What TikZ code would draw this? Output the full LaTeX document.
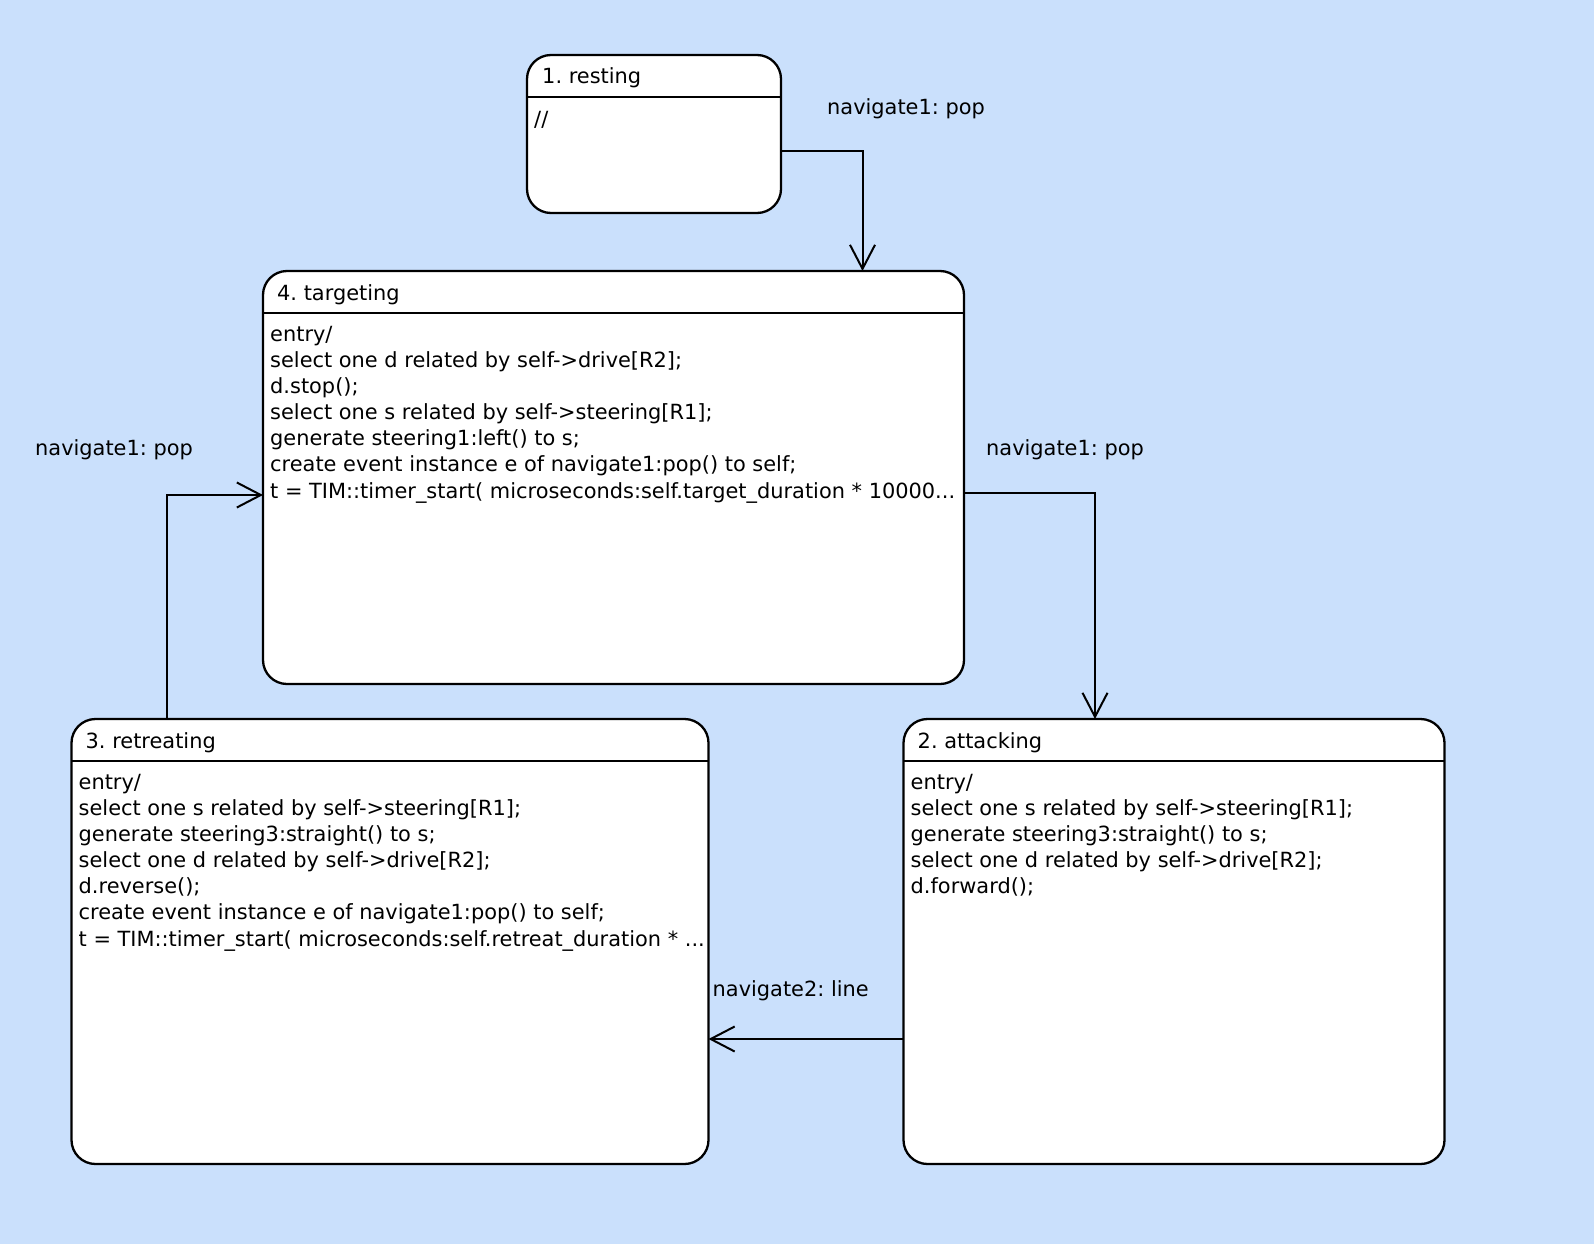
\documentclass[tikz,border=0pt]{standalone}
\usepackage{fontspec}
\usepackage{xcolor}
\usepackage{tikz}
\usetikzlibrary{arrows.meta, positioning}
\newfontfamily\statefont{DejaVu Sans}[Scale=1.0]
\frenchspacing
\definecolor{canvas}{RGB}{202,224,252}
\tikzstyle{state} = [rectangle, rounded corners=24pt, draw=black, fill=white, line width=2.3pt, anchor=north west, inner sep=0pt, outer sep=0pt]
\tikzstyle{divider} = [line width=2.1pt]
\tikzstyle{statetitle} = [anchor=base west, inner sep=0pt, font=\statefont\fontsize{20.9}{26.1}\selectfont]
\tikzstyle{statebody} = [anchor=north west, align=left, inner sep=0pt, font=\statefont\fontsize{20.9}{26.1}\selectfont]
\tikzstyle{translabel} = [anchor=base west, inner sep=0pt, font=\statefont\fontsize{20.9}{26.1}\selectfont]
\tikzstyle{trans} = [line width=2pt, -{Straight Barb[length=24pt, width=25pt]}]

\begin{document}
\begin{tikzpicture}[x=1pt, y=-1pt]

\fill[canvas] (0,0) rectangle (1594,1244);
\useasboundingbox (0,0) rectangle (1594,1244);

% states
\node (resting) [state, minimum width=254pt, minimum height=158pt] at (527,55) {};
\node (targeting) [state, minimum width=701pt, minimum height=413pt] at (263,271) {};
\node (retreating) [state, minimum width=637pt, minimum height=445pt] at (71.5,719) {};
\node (attacking) [state, minimum width=541pt, minimum height=445pt] at (903.5,719) {};

\draw [divider] ([yshift=-42pt]resting.north west) -- ([yshift=-42pt]resting.north east);
\draw [divider] ([yshift=-42pt]targeting.north west) -- ([yshift=-42pt]targeting.north east);
\draw [divider] ([yshift=-42pt]retreating.north west) -- ([yshift=-42pt]retreating.north east);
\draw [divider] ([yshift=-42pt]attacking.north west) -- ([yshift=-42pt]attacking.north east);

\node (restingtitle) [statetitle] at ([xshift=15pt, yshift=-29pt]resting.north west) {1. resting};
\node (targetingtitle) [statetitle] at ([xshift=14pt, yshift=-29pt]targeting.north west) {4. targeting};
\node (retreatingtitle) [statetitle] at ([xshift=14pt, yshift=-29pt]retreating.north west) {3. retreating};
\node (attackingtitle) [statetitle] at ([xshift=14pt, yshift=-29pt]attacking.north west) {2. attacking};

\node (restingbody) [statebody] at ([xshift=7pt, yshift=-56pt]resting.north west) {//};
\node (targetingbody) [statebody] at ([xshift=7pt, yshift=-55pt]targeting.north west) {entry/\\
select one d related by self->drive[R2];\\
d.stop();\\
select one s related by self->steering[R1];\\
generate steering1:left() to s;\\
create event instance e of navigate1:pop() to self;\\
t = TIM::timer\_start( microseconds:self.target\_duration * 10000...};
\node (retreatingbody) [statebody] at ([xshift=7pt, yshift=-55pt]retreating.north west) {entry/\\
select one s related by self->steering[R1];\\
generate steering3:straight() to s;\\
select one d related by self->drive[R2];\\
d.reverse();\\
create event instance e of navigate1:pop() to self;\\
t = TIM::timer\_start( microseconds:self.retreat\_duration * ...};
\node (attackingbody) [statebody] at ([xshift=7pt, yshift=-55pt]attacking.north west) {entry/\\
select one s related by self->steering[R1];\\
generate steering3:straight() to s;\\
select one d related by self->drive[R2];\\
d.forward();};

% transitions
\draw [trans] ([yshift=-17pt]resting.east) -| ([xshift=249pt]targeting.north);
\draw [trans] ([yshift=-15pt]targeting.east) -| ([xshift=-79pt]attacking.north);
\draw [trans] ([yshift=-97.5pt]attacking.west) -- ([yshift=-97.5pt]retreating.east);
\draw [trans] ([xshift=-223pt]retreating.north) |- ([yshift=-17.5pt]targeting.west);

\node (restinglabel) [translabel] at (827,114) {navigate1: pop};
\node (targetinglabel) [translabel] at (986,455) {navigate1: pop};
\node (retreatinglabel) [translabel] at (35,455) {navigate1: pop};
\node (attackinglabel) [translabel] at (712.5,996.5) {navigate2: line};

\end{tikzpicture}
\end{document}
